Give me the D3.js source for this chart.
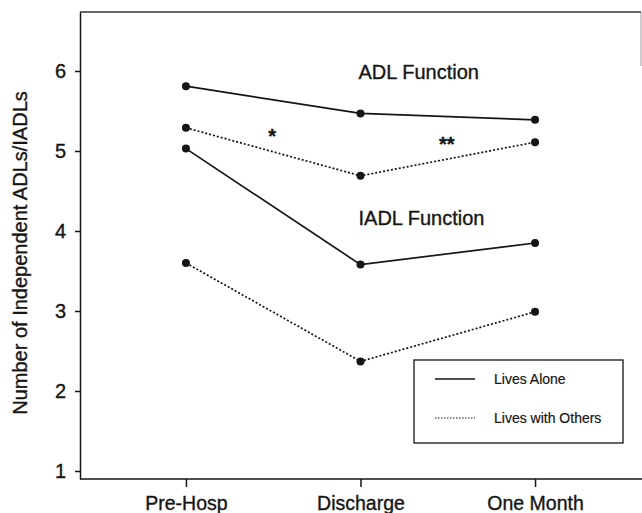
<!DOCTYPE html>
<html><head><meta charset="utf-8">
<script src="https://cdn.jsdelivr.net/npm/d3@7"></script>
<style>
body{margin:0;background:#fff}
text{font-family:"Liberation Sans",Arial,Helvetica,sans-serif;fill:#151515;stroke:#151515;stroke-width:0.35px}
</style>
</head><body><svg id="c" width="642" height="513"></svg>
<script>
const categories = ["Pre-Hosp", "Discharge", "One Month"];
const adlAlone   = [5.81, 5.47, 5.39];
const adlOthers  = [5.29, 4.69, 5.11];
const iadlAlone  = [5.03, 3.58, 3.85];
const iadlOthers = [3.60, 2.37, 2.99];
const yTicks = [1, 2, 3, 4, 5, 6];
const legendLabels = ["Lives Alone", "Lives with Others"];
const annotations = [
  {text: "ADL Function", cat: "Discharge", v: 5.90},
  {text: "IADL Function", cat: "Discharge", v: 4.07}
];
const stars = [
  {text: "*", between: ["Pre-Hosp", "Discharge"], v: 5.10},
  {text: "**", between: ["Discharge", "One Month"], v: 5.00}
];

const svg = d3.select("#c");
const L = 80, R = 641, T = 12, B = 479;
const x = d3.scalePoint().domain(categories).range([L, R]).padding(0.607);
const y = d3.scaleLinear().domain([0.9, 6.7375]).range([B, T]);
const ink = "#151515";

// frame top + partial right
svg.append("line").attr("x1", L).attr("x2", R).attr("y1", T).attr("y2", T)
  .attr("stroke", "#333").attr("stroke-width", 1.5);
svg.append("line").attr("x1", R).attr("x2", R).attr("y1", T).attr("y2", 66)
  .attr("stroke", "#999").attr("stroke-width", 1);

const yAxis = svg.append("g").attr("transform", `translate(${L},0)`)
  .call(d3.axisLeft(y).tickValues(yTicks).tickFormat(d3.format("d")).tickSize(5).tickSizeOuter(0).tickPadding(9));
yAxis.selectAll("path,line").attr("stroke", ink).attr("stroke-width", 1.5);
yAxis.selectAll("text").attr("font-size", 20).attr("fill", ink)
  .style("font-family", '"Liberation Sans",Arial,sans-serif');

const xAxis = svg.append("g").attr("transform", `translate(0,${B})`)
  .call(d3.axisBottom(x).tickSize(8).tickSizeOuter(0).tickPadding(9));
xAxis.select("path").attr("d", `M${L},0H642`);
xAxis.selectAll("path,line").attr("stroke", ink).attr("stroke-width", 1.5);
xAxis.selectAll("text").attr("font-size", 19.5).attr("fill", ink)
  .style("font-family", '"Liberation Sans",Arial,sans-serif');

svg.append("text").attr("transform", `translate(27,253) rotate(-90)`)
  .attr("text-anchor", "middle").attr("font-size", 20).text("Number of Independent ADLs/IADLs");

const series = [
  {values: adlAlone, dashed: false},
  {values: adlOthers, dashed: true},
  {values: iadlAlone, dashed: false},
  {values: iadlOthers, dashed: true}
];
const line = d3.line().x((d, i) => x(categories[i])).y(d => y(d));
series.forEach(s => {
  svg.append("path").attr("d", line(s.values)).attr("fill", "none")
    .attr("stroke", ink).attr("stroke-width", s.dashed ? 1.7 : 1.7)
    .attr("stroke-dasharray", s.dashed ? "2,2" : null);
  svg.selectAll(null).data(s.values).enter().append("circle")
    .attr("cx", (d, i) => x(categories[i])).attr("cy", d => y(d))
    .attr("r", 4).attr("fill", ink);
});

annotations.forEach(a => {
  svg.append("text").attr("x", x(a.cat) - 2).attr("y", y(a.v))
    .attr("font-size", 20).text(a.text);
});
stars.forEach(s => {
  const cx = (x(s.between[0]) + x(s.between[1])) / 2 - 1;
  svg.append("text").attr("x", cx).attr("y", y(s.v)).attr("text-anchor", "middle")
    .attr("font-size", 20).attr("font-weight", "bold").text(s.text);
});

// legend
const lg = svg.append("g").attr("transform", "translate(414,360)");
lg.append("rect").attr("width", 209).attr("height", 83).attr("fill", "#fff")
  .attr("stroke", ink).attr("stroke-width", 1.3);
legendLabels.forEach((t, i) => {
  const yy = 19 + i * 39;
  lg.append("line").attr("x1", 21).attr("x2", 61).attr("y1", yy).attr("y2", yy)
    .attr("stroke", ink).attr("stroke-width", i ? 1.2 : 1.4)
    .attr("stroke-dasharray", i ? "1.5,1.5" : null);
  lg.append("text").attr("x", 80).attr("y", yy + 5).attr("font-size", 14)
    .style("stroke-width", "0.2px").text(t);
});
</script></body></html>
